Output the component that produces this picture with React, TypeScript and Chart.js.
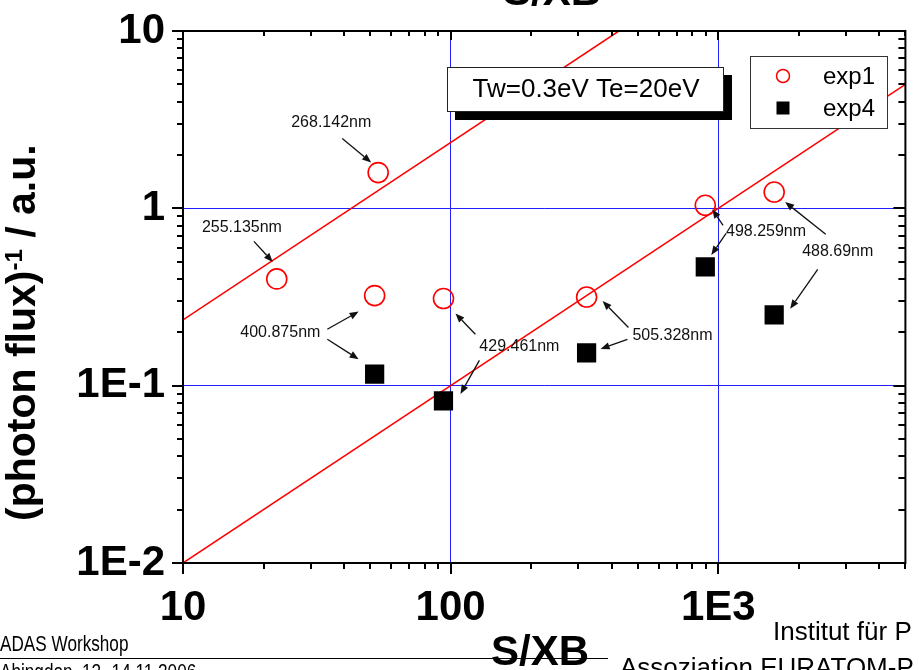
import React, { useEffect, useRef } from 'react';
import { Chart, registerables } from 'chart.js';

Chart.register(...registerables);

// ---- data ---------------------------------------------------------------
const EXP1_X = [22.4, 53.6, 52, 94, 322, 894, 1617];
const EXP1_Y = [0.4, 1.59, 0.322, 0.31, 0.316, 1.04, 1.236];
const EXP4_X = [52, 94, 322, 894, 1617];
const EXP4_Y = [0.116, 0.082, 0.153, 0.467, 0.251];

// straight-line fits (slope 1 on log-log axes)
const FIT_UPPER_X = [10, 425];
const FIT_UPPER_Y = [0.235, 10];
const FIT_LOWER_X = [10, 5000];
const FIT_LOWER_Y = [0.01, 5];

const X_MIN = 10;
const X_MAX = 5000;
const Y_MIN = 0.01;
const Y_MAX = 10;
const X_TICK_VALUES = [10, 100, 1000];
const X_TICK_LABELS = ['10', '100', '1E3'];
const Y_TICK_VALUES = [0.01, 0.1, 1, 10];
const Y_TICK_LABELS = ['1E-2', '1E-1', '1', '10'];

// wavelength labels, placed in data coordinates
const LINE_LABELS = ['268.142nm', '255.135nm', '400.875nm', '429.461nm', '505.328nm', '498.259nm', '488.69nm'];
const LABEL_X = [35.8, 16.6, 23.1, 180.6, 674, 1508, 2793];
const LABEL_Y = [3.05, 0.781, 0.2, 0.1667, 0.192, 0.742, 0.572];

// arrows from a label to a marker; tail offset from the label centre, tip offset from the marker
const ARROWS = [
  { label: 0, series: 0, index: 1, tail: [11, 16], tip: [-7, -10] },
  { label: 1, series: 0, index: 0, tail: [12, 14], tip: [-4, -17] },
  { label: 2, series: 0, index: 2, tail: [47, -3], tip: [-16, 16] },
  { label: 2, series: 1, index: 0, tail: [47, 7], tip: [-16, -15] },
  { label: 3, series: 0, index: 3, tail: [-44, -12], tip: [12, 15] },
  { label: 3, series: 1, index: 1, tail: [-40, 14], tip: [17, -7] },
  { label: 4, series: 0, index: 4, tail: [-44, -8], tip: [16, 4] },
  { label: 4, series: 1, index: 2, tail: [-45, 4], tip: [14, -4] },
  { label: 5, series: 0, index: 5, tail: [-43, -6], tip: [7, 4] },
  { label: 5, series: 1, index: 3, tail: [-40, 2], tip: [6, -12] },
  { label: 6, series: 0, index: 6, tail: [-12, -17], tip: [11, 10] },
  { label: 6, series: 1, index: 4, tail: [-20, 18], tip: [16, -6] },
];

const INFO_TEXT = 'Tw=0.3eV Te=20eV';
const FONT = "'Liberation Sans', Arial, Helvetica, sans-serif";
const GRID_BLUE = '#1f1fff';
const NONE = 'rgba(0,0,0,0)';

// ---- helpers --------------------------------------------------------------
const isDecade = (v: number) => Math.abs(Math.log10(v) - Math.round(Math.log10(v))) < 1e-9;
const sameLog = (a: number, b: number) => Math.abs(Math.log10(a) - Math.log10(b)) < 1e-6;

function logTickValues(min: number, max: number): number[] {
  const out: number[] = [];
  const e0 = Math.floor(Math.log10(min));
  const e1 = Math.ceil(Math.log10(max));
  for (let e = e0; e <= e1; e++) {
    for (let m = 1; m <= 9; m++) {
      const v = parseFloat((m * Math.pow(10, e)).toPrecision(6));
      if (v >= min * (1 - 1e-9) && v <= max * (1 + 1e-9)) out.push(v);
    }
  }
  return out;
}

function labelFor(v: number, values: number[], labels: string[]): string {
  const i = values.findIndex((t) => sameLog(t, v));
  return i >= 0 ? labels[i] : '';
}

function gridColor(v: number | undefined, min: number, max: number): string {
  if (v === undefined || !isDecade(v)) return NONE;
  if (sameLog(v, min) || sameLog(v, max)) return NONE;
  return GRID_BLUE;
}

function drawArrow(ctx: CanvasRenderingContext2D, x0: number, y0: number, x1: number, y1: number) {
  const ang = Math.atan2(y1 - y0, x1 - x0);
  const head = 9;
  const half = 3.6;
  const bx = x1 - head * Math.cos(ang);
  const by = y1 - head * Math.sin(ang);
  ctx.beginPath();
  ctx.moveTo(x0, y0);
  ctx.lineTo(bx, by);
  ctx.stroke();
  ctx.beginPath();
  ctx.moveTo(x1, y1);
  ctx.lineTo(bx + half * Math.sin(ang), by - half * Math.cos(ang));
  ctx.lineTo(bx - half * Math.sin(ang), by + half * Math.cos(ang));
  ctx.closePath();
  ctx.fill();
}

// keep the plot frame exactly where the axes say, ignoring label overhang
function fixedBox(size: number, horizontal: boolean) {
  return (s: any) => {
    if (horizontal) s.height = size;
    else s.width = size;
    s.paddingTop = 0;
    s.paddingBottom = 0;
    s.paddingLeft = 0;
    s.paddingRight = 0;
  };
}

// ---- decorations: frame, tick marks, legend, labels, page text -------------
const decorations = {
  id: 'decorations',
  afterDatasetsDraw(chart: any) {
    const ctx: CanvasRenderingContext2D = chart.ctx;
    const { left, right, top, bottom } = chart.chartArea;
    const xs = chart.scales.x;
    const ys = chart.scales.y;

    ctx.save();

    // wavelength labels and arrows
    ctx.fillStyle = '#111';
    ctx.strokeStyle = '#111';
    ctx.lineWidth = 1.3;
    ctx.font = `16px ${FONT}`;
    ctx.textAlign = 'center';
    ctx.textBaseline = 'middle';
    const labelPos = LINE_LABELS.map((_, i) => [xs.getPixelForValue(LABEL_X[i]), ys.getPixelForValue(LABEL_Y[i])]);
    LINE_LABELS.forEach((t, i) => ctx.fillText(t, labelPos[i][0], labelPos[i][1]));
    ARROWS.forEach((a) => {
      const el = chart.getDatasetMeta(a.series).data[a.index];
      const [lx, ly] = labelPos[a.label];
      drawArrow(ctx, lx + a.tail[0], ly + a.tail[1], el.x + a.tip[0], el.y + a.tip[1]);
    });

    // info box with drop shadow
    const bx = 447, by = 67, bw = 276, bh = 44;
    ctx.fillStyle = '#000';
    ctx.fillRect(bx + 8, by + 8, bw + 1, bh + 1);
    ctx.fillStyle = '#fff';
    ctx.fillRect(bx, by, bw, bh);
    ctx.strokeStyle = '#222';
    ctx.lineWidth = 1;
    ctx.strokeRect(bx + 0.5, by + 0.5, bw, bh);
    ctx.fillStyle = '#000';
    ctx.font = `26px ${FONT}`;
    ctx.textAlign = 'center';
    ctx.textBaseline = 'middle';
    ctx.fillText(INFO_TEXT, bx + bw / 2 + 1, by + bh / 2 + 1);

    // legend
    const lx = 750, ly = 56, lw = 137, lh = 72;
    ctx.fillStyle = '#fff';
    ctx.fillRect(lx, ly, lw, lh);
    ctx.strokeStyle = '#333';
    ctx.strokeRect(lx + 0.5, ly + 0.5, lw, lh);
    const ds = chart.data.datasets;
    ctx.beginPath();
    ctx.strokeStyle = ds[0].borderColor;
    ctx.lineWidth = 1.5;
    ctx.arc(783, 76, 6.5, 0, Math.PI * 2);
    ctx.stroke();
    ctx.fillStyle = ds[1].backgroundColor;
    ctx.fillRect(776.5, 101.5, 13, 13);
    ctx.fillStyle = '#000';
    ctx.font = `24px ${FONT}`;
    ctx.textAlign = 'left';
    ctx.fillText(ds[0].label, 823, 77);
    ctx.fillText(ds[1].label, 823, 109);

    // frame
    ctx.strokeStyle = '#000';
    ctx.lineWidth = 2;
    ctx.strokeRect(left, top, right - left, bottom - top);

    // tick marks: outward on bottom/left, inward on top/right
    const majorLen = 11;
    const minorLen = 6;
    ctx.beginPath();
    logTickValues(X_MIN, X_MAX).forEach((v) => {
      const px = Math.round(xs.getPixelForValue(v));
      const len = isDecade(v) ? majorLen : minorLen;
      ctx.moveTo(px, bottom);
      ctx.lineTo(px, bottom + len);
      ctx.moveTo(px, top);
      ctx.lineTo(px, top + (isDecade(v) ? 9 : 5));
    });
    logTickValues(Y_MIN, Y_MAX).forEach((v) => {
      const py = Math.round(ys.getPixelForValue(v));
      const len = isDecade(v) ? majorLen : minorLen;
      ctx.moveTo(left, py);
      ctx.lineTo(left - len, py);
      ctx.moveTo(right, py);
      ctx.lineTo(right - (isDecade(v) ? 12 : 7), py);
    });
    ctx.stroke();

    ctx.restore();
  },
  afterDraw(chart: any) {
    const ctx: CanvasRenderingContext2D = chart.ctx;
    ctx.save();
    ctx.fillStyle = '#000';

    // title at the top edge
    ctx.font = `bold 42px ${FONT}`;
    ctx.textAlign = 'center';
    ctx.textBaseline = 'alphabetic';
    ctx.fillText('S/XB', 552, 5);

    // y-axis title with superscript
    ctx.translate(35, 521);
    ctx.rotate(-Math.PI / 2);
    ctx.textAlign = 'left';
    ctx.font = `bold 41px ${FONT}`;
    let x = 0;
    ctx.fillText('(photon flux)', x, 0);
    x += ctx.measureText('(photon flux)').width;
    ctx.font = `bold 24px ${FONT}`;
    ctx.fillText('-1', x, -13);
    x += ctx.measureText('-1').width;
    ctx.font = `bold 41px ${FONT}`;
    ctx.fillText(' / a.u.', x, 0);
    ctx.setTransform(1, 0, 0, 1, 0, 0);

    // footer rule and x-axis title
    ctx.strokeStyle = '#000';
    ctx.lineWidth = 1;
    ctx.beginPath();
    ctx.moveTo(0, 658.5);
    ctx.lineTo(608, 658.5);
    ctx.stroke();
    ctx.font = `bold 42px ${FONT}`;
    ctx.textAlign = 'center';
    ctx.fillText('S/XB', 540, 665);

    // footer texts
    ctx.textAlign = 'left';
    ctx.save();
    ctx.scale(0.78, 1);
    ctx.font = `22px ${FONT}`;
    ctx.fillText('ADAS Workshop', 0, 651);
    ctx.fillText('Abingdon, 12.-14.11.2006', 0, 679);
    ctx.restore();
    ctx.font = `26px ${FONT}`;
    ctx.fillText('Institut für P', 773, 640);
    ctx.fillText('Assoziation EURATOM-P', 620, 676);

    ctx.restore();
  },
};

export default function App() {
  const ref = useRef<HTMLCanvasElement>(null);

  useEffect(() => {
    const canvas = ref.current;
    if (!canvas) return;
    const tickFont = { family: FONT, size: 42, weight: 'bold' as const };
    const chart = new Chart(canvas, {
      type: 'scatter',
      data: {
        datasets: [
          {
            label: 'exp1',
            data: EXP1_X.map((x, i) => ({ x, y: EXP1_Y[i] })),
            pointStyle: 'circle',
            pointRadius: 10,
            pointBorderWidth: 1.6,
            borderColor: '#ff0000',
            backgroundColor: 'rgba(0,0,0,0)',
            showLine: false,
          },
          {
            label: 'exp4',
            data: EXP4_X.map((x, i) => ({ x, y: EXP4_Y[i] })),
            pointStyle: 'rect',
            pointRadius: 13.6,
            pointBorderWidth: 0,
            borderColor: '#000000',
            backgroundColor: '#000000',
            showLine: false,
          },
          {
            label: 'fit upper',
            data: FIT_UPPER_X.map((x, i) => ({ x, y: FIT_UPPER_Y[i] })),
            showLine: true,
            pointRadius: 0,
            borderColor: '#ff0000',
            borderWidth: 1.5,
          },
          {
            label: 'fit lower',
            data: FIT_LOWER_X.map((x, i) => ({ x, y: FIT_LOWER_Y[i] })),
            showLine: true,
            pointRadius: 0,
            borderColor: '#ff0000',
            borderWidth: 1.5,
          },
        ],
      },
      options: {
        animation: false,
        responsive: false,
        devicePixelRatio: 1,
        layout: { padding: { top: 31, right: 9, left: 0, bottom: 0 } },
        plugins: { legend: { display: false }, tooltip: { enabled: false }, title: { display: false } },
        scales: {
          x: {
            type: 'logarithmic',
            position: 'bottom',
            min: X_MIN,
            max: X_MAX,
            afterBuildTicks: (s: any) => {
              s.ticks = logTickValues(X_MIN, X_MAX).map((v) => ({ value: v }));
            },
            afterFit: fixedBox(107, true),
            grid: {
              drawTicks: false,
              lineWidth: 1,
              color: (c: any) => gridColor(c.tick?.value, X_MIN, X_MAX),
            },
            border: { display: false },
            ticks: {
              autoSkip: false,
              maxRotation: 0,
              padding: 20,
              color: '#000',
              font: tickFont,
              callback: (v: any) => labelFor(Number(v), X_TICK_VALUES, X_TICK_LABELS),
            },
          },
          y: {
            type: 'logarithmic',
            position: 'left',
            min: Y_MIN,
            max: Y_MAX,
            afterBuildTicks: (s: any) => {
              s.ticks = logTickValues(Y_MIN, Y_MAX).map((v) => ({ value: v }));
            },
            afterFit: fixedBox(183, false),
            grid: {
              drawTicks: false,
              lineWidth: 1,
              color: (c: any) => gridColor(c.tick?.value, Y_MIN, Y_MAX),
            },
            border: { display: false },
            ticks: {
              autoSkip: false,
              padding: 18,
              color: '#000',
              font: tickFont,
              callback: (v: any) => labelFor(Number(v), Y_TICK_VALUES, Y_TICK_LABELS),
            },
          },
        },
      },
      plugins: [decorations],
    });
    return () => chart.destroy();
  }, []);

  return (
    <div style={{ position: 'absolute', left: 0, top: 0, width: 919, height: 670, background: '#fff', overflow: 'hidden' }}>
      <canvas ref={ref} width={919} height={670} style={{ display: 'block' }} />
    </div>
  );
}
